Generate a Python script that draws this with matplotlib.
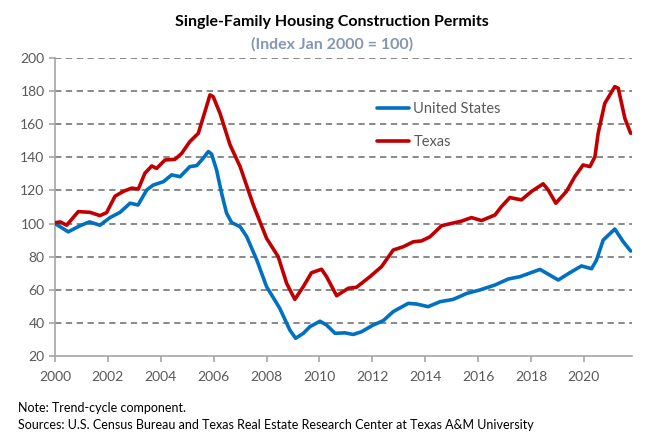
import matplotlib
matplotlib.use("Agg")
import matplotlib.pyplot as plt

plt.rcParams['font.family'] = ['Lato', 'DejaVu Sans']

us_x = [2000.0, 2000.5, 2000.95, 2001.3, 2001.7, 2002.08, 2002.46, 2002.84, 2003.14, 2003.47,
        2003.72, 2004.1, 2004.41, 2004.73, 2005.1, 2005.36, 2005.6, 2005.8, 2005.92, 2006.11,
        2006.3, 2006.49, 2006.68, 2007.0, 2007.25, 2007.63, 2008.0, 2008.5, 2008.88, 2009.1,
        2009.39, 2009.64, 2010.02, 2010.27, 2010.59, 2010.96, 2011.28, 2011.6, 2012.03, 2012.41,
        2012.79, 2013.36, 2013.67, 2014.11, 2014.56, 2015.06, 2015.57, 2016.07, 2016.64, 2017.14,
        2017.58, 2018.34, 2018.71, 2019.03, 2019.47, 2019.91, 2020.29, 2020.48, 2020.73, 2021.17,
        2021.49, 2021.77]
us_y = [100, 95, 98.7, 101, 99, 103.6, 106.8, 112.3, 111.2, 120.3,
        123.3, 125.3, 129.4, 128.3, 134.4, 135, 139.4, 143.5, 142, 132.4,
        118.3, 106.2, 100.6, 98.1, 92.1, 78, 61.9, 48.8, 35.7, 30.7,
        33.7, 37.7, 41, 38.7, 33.7, 34, 33, 34.7, 38.7, 41.3,
        46.8, 51.8, 51.4, 49.8, 52.8, 54.2, 57.8, 59.9, 62.9, 66.5,
        67.9, 72.3, 68.9, 65.9, 70.3, 74.4, 72.7, 78, 90, 96.7,
        89, 83.4]

tx_x = [2000.0, 2000.2, 2000.44, 2000.88, 2001.32, 2001.7, 2001.95, 2002.27, 2002.58, 2002.9,
        2003.15, 2003.4, 2003.66, 2003.84, 2004.16, 2004.54, 2004.79, 2005.1, 2005.42, 2005.67,
        2005.86, 2005.98, 2006.24, 2006.62, 2007.0, 2007.5, 2008.0, 2008.44, 2008.76, 2009.07,
        2009.39, 2009.7, 2010.08, 2010.27, 2010.65, 2011.09, 2011.4, 2011.91, 2012.35, 2012.79,
        2013.17, 2013.55, 2013.86, 2014.18, 2014.62, 2015.0, 2015.38, 2015.75, 2016.13, 2016.64,
        2016.88, 2017.2, 2017.64, 2018.02, 2018.46, 2018.65, 2018.94, 2019.34, 2019.66, 2019.97,
        2020.23, 2020.42, 2020.54, 2020.79, 2021.17, 2021.3, 2021.55, 2021.77]
tx_y = [100.5, 101, 99, 107.2, 106.8, 104.8, 106.6, 116.5, 119.4, 121.4,
        120.8, 130.4, 134.8, 133.3, 138.4, 138.8, 142.4, 149.5, 154.5, 167.6,
        177.7, 176.7, 166.6, 147.5, 134.4, 111.2, 91.1, 80, 63.9, 54.2,
        61.9, 70.3, 72.4, 67.9, 56.4, 60.9, 61.5, 67.9, 74, 84,
        86, 89, 89.5, 92, 98.7, 100.1, 101.5, 103.6, 101.8, 105.2,
        110.2, 115.7, 114.3, 119.4, 124, 120.3, 112.3, 119.4, 128.4, 135.4,
        134.4, 140.4, 154.5, 172.6, 182.7, 181.7, 163.6, 154.5]

x_ticks = [2000, 2002, 2004, 2006, 2008, 2010, 2012, 2014, 2016, 2018, 2020]
y_ticks = [20, 40, 60, 80, 100, 120, 140, 160, 180, 200]

fig = plt.figure(figsize=(6.5, 4.41), dpi=100)
ax = fig.add_axes([55/650, 1-356/441, (632-55)/650, (356-58)/441])

grid_c = '#808080'
for yv in y_ticks[1:]:
    ax.axhline(yv, color=grid_c, lw=1.3, ls=(0, (3.5, 2.5)), zorder=1)

ax.plot(us_x, us_y, color='#0070C0', lw=2.6, label='United States', zorder=3,
        solid_capstyle='round', solid_joinstyle='round')
ax.plot(tx_x, tx_y, color='#C00000', lw=2.6, label='Texas', zorder=3,
        solid_capstyle='round', solid_joinstyle='round')

ax.set_xlim(2000, 2021.82)
ax.set_ylim(20, 200)
ax.set_xticks(x_ticks)
ax.set_yticks(y_ticks)
for s in ['top', 'right']:
    ax.spines[s].set_visible(False)
for s in ['left', 'bottom']:
    ax.spines[s].set_color('#A6A6A6')
    ax.spines[s].set_linewidth(1.2)
ax.tick_params(axis='both', colors='#A6A6A6', labelcolor='#595959', labelsize=10,
               length=4, width=1.2)
ax.tick_params(axis='x', pad=7)

leg = ax.legend(loc='upper left', bbox_to_anchor=(0.535, 0.895), frameon=False,
                fontsize=10.5, handlelength=2.2, handletextpad=0.3, labelspacing=1.25,
                labelcolor='#595959')

fig.text(332/650, 1-22/441, 'Single-Family Housing Construction Permits', ha='center',
         va='center', fontsize=11.5, fontweight='bold', color='#000000')
fig.text(332/650, 1-44/441, '(Index Jan 2000 = 100)', ha='center', va='center',
         fontsize=11.5, fontweight='bold', color='#8496B0')
fig.text(18/650, 1-408/441, 'Note: Trend-cycle component.', ha='left', va='center',
         fontsize=9, color='#000000')
fig.text(18/650, 1-425/441,
         'Sources: U.S. Census Bureau and Texas Real Estate Research Center at Texas A&M University',
         ha='left', va='center', fontsize=9, color='#000000')

fig.savefig('out.png', dpi=100)
